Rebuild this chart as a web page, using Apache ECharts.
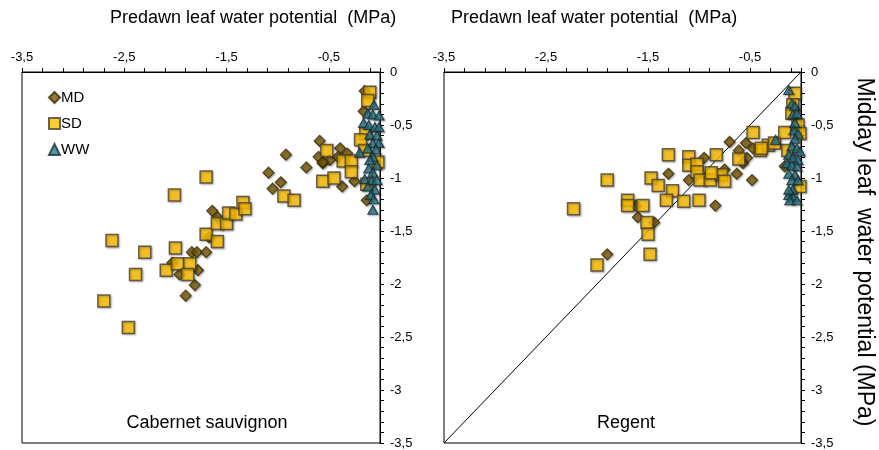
<!DOCTYPE html>
<html>
<head>
<meta charset="utf-8">
<script src="https://cdn.jsdelivr.net/npm/echarts@6/dist/echarts.min.js"></script>
<style>
  html, body { margin: 0; padding: 0; background: #fff; }
  #chart { width: 879px; height: 450px; }
</style>
</head>
<body>
<div id="chart"></div>
<script>
// Predawn (x) vs midday (y) leaf water potential, MPa, per irrigation treatment
const cabernetMD = [
  [-1.64,-1.31],[-1.59,-1.37],[-1.84,-1.70],[-1.79,-1.70],[-1.70,-1.70],[-1.78,-1.87],
  [-1.96,-1.91],[-1.81,-2.01],[-1.90,-2.11],[-2.03,-1.80],[-1.67,-1.56],
  [-0.59,-0.65],[-0.92,-0.78],[-1.09,-0.95],[-0.97,-1.04],[-1.05,-1.10],[-0.72,-0.90],
  [-0.60,-0.80],[-0.56,-0.86],[-0.49,-0.83],[-0.15,-0.18],[-0.16,-0.37],[-0.39,-0.72],
  [-0.32,-0.77],[-0.41,-0.80],[-0.25,-1.03],[-0.37,-1.08],[-0.13,-1.21],[-0.56,-0.85]
];
const cabernetSD = [
  [-1.70,-0.99],[-2.01,-1.16],[-2.62,-1.59],[-2.30,-1.70],[-2.39,-1.91],[-2.70,-2.16],
  [-2.46,-2.41],[-2.00,-1.66],[-2.09,-1.87],[-1.98,-1.81],[-1.86,-1.81],[-1.88,-1.91],
  [-1.70,-1.53],[-1.59,-1.60],[-1.59,-1.43],[-1.50,-1.43],[-1.48,-1.33],[-1.41,-1.34],
  [-1.34,-1.23],[-1.32,-1.29],[-0.94,-1.17],[-0.84,-1.21],[-0.56,-1.03],[-0.52,-0.74],
  [-0.10,-0.19],[-0.12,-0.27],[-0.14,-0.58],[-0.19,-0.64],[-0.15,-0.74],[-0.36,-0.84],
  [-0.28,-0.84],[-0.28,-0.94],[-0.02,-0.85],[-0.45,-1.00],[-0.13,-1.06]
];
const cabernetWW = [
  [-0.06,-0.31],[-0.12,-0.39],[-0.07,-0.40],[-0.01,-0.41],[-0.16,-0.48],[-0.11,-0.50],
  [-0.05,-0.52],[-0.01,-0.52],[-0.10,-0.59],[-0.03,-0.60],[-0.07,-0.67],[-0.01,-0.67],
  [-0.12,-0.72],[-0.04,-0.73],[-0.20,-0.76],[-0.07,-0.80],[-0.10,-0.83],[-0.03,-0.88],
  [-0.11,-0.91],[-0.07,-0.95],[-0.15,-1.01],[-0.08,-1.02],[-0.03,-1.02],[-0.12,-1.08],
  [-0.05,-1.11],[-0.09,-1.16],[-0.06,-1.20],[-0.07,-1.30]
];
const regentMD = [
  [-1.30,-0.96],[-1.60,-1.37],[-1.44,-1.42],[-1.62,-1.26],[-1.90,-1.72],[-0.70,-0.66],
  [-0.54,-0.67],[-0.61,-0.74],[-0.53,-0.81],[-0.57,-0.86],[-0.47,-0.72],[-0.95,-0.81],
  [-0.63,-0.96],[-0.48,-1.02],[-0.84,-1.26],[-1.10,-1.02],[-0.75,-0.92],[-0.16,-0.89]
];
const regentSD = [
  [-1.30,-0.78],[-1.90,-1.02],[-1.47,-1.00],[-1.40,-1.07],[-1.26,-1.12],[-1.32,-1.21],
  [-2.23,-1.29],[-1.70,-1.21],[-1.70,-1.26],[-1.55,-1.26],[-1.51,-1.42],[-1.50,-1.53],
  [-1.48,-1.72],[-2.00,-1.82],[-0.47,-0.57],[-0.40,-0.74],[-0.61,-0.82],[-0.83,-0.78],
  [-1.10,-0.80],[-1.10,-0.88],[-1.02,-0.87],[-1.02,-0.94],[-0.99,-1.02],[-0.89,-1.02],
  [-0.78,-0.97],[-0.75,-1.03],[-0.88,-0.95],[-1.15,-1.22],[-1.00,-1.21],[-0.32,-0.69],
  [-0.06,-0.20],[-0.08,-0.31],[-0.09,-0.39],[-0.03,-0.50],[-0.01,-0.58],[-0.39,-0.72],
  [-0.26,-0.67],[-0.16,-0.57],[-0.13,-0.74],[-0.01,-1.08]
];
const regentWW = [
  [-0.12,-0.17],[-0.09,-0.30],[-0.06,-0.32],[-0.08,-0.40],[-0.04,-0.39],[-0.25,-0.64],
  [-0.06,-0.48],[-0.07,-0.55],[-0.03,-0.58],[-0.06,-0.63],[-0.09,-0.70],[-0.04,-0.72],
  [-0.01,-0.75],[-0.12,-0.78],[-0.08,-0.81],[-0.03,-0.83],[-0.14,-0.86],[-0.09,-0.88],
  [-0.04,-0.89],[-0.12,-0.96],[-0.06,-0.97],[-0.09,-1.02],[-0.03,-1.02],[-0.08,-1.11],
  [-0.12,-1.16],[-0.08,-1.18],[-0.11,-1.21],[-0.04,-1.21],[-0.12,-1.11]
];
// 1:1 reference line on the Regent panel
const oneToOne = [[-3.5,-3.5],[0,0]];

const panelNames = ['Cabernet sauvignon', 'Regent'];
const xTitle = 'Predawn leaf water potential  (MPa)';
const yTitle = 'Midday leaf  water potential (MPa)';
const axisMin = -3.5, axisMax = 0;

const FONT = '"Liberation Sans", Arial, sans-serif';
const fmt = v => String(Math.round(v * 10) / 10).replace('.', ',');

function xAxisFor(gridIndex) {
  return {
    type: 'value', gridIndex, position: 'top', min: axisMin, max: axisMax, interval: 0.2,
    axisLine: { show: true, lineStyle: { color: '#000', width: 1 } },
    axisTick: { show: true, length: 4, lineStyle: { color: '#000' } },
    splitLine: { show: false },
    axisLabel: {
      show: true, margin: 8, color: '#000', fontFamily: FONT, fontSize: 13,
      showMinLabel: true, showMaxLabel: true, hideOverlap: false,
      formatter: v => {
        const s = v - axisMin;
        return (Math.abs(s - Math.round(s)) < 1e-6 && v < -0.01) ? fmt(v) : '';
      }
    }
  };
}
function yAxisFor(gridIndex) {
  return {
    type: 'value', gridIndex, position: 'right', min: axisMin, max: axisMax, interval: 0.5,
    axisLine: { show: true, lineStyle: { color: '#000', width: 1 } },
    axisTick: { show: true, length: 4, lineStyle: { color: '#000' } },
    minorTick: { show: true, splitNumber: 5, length: 4, lineStyle: { color: '#000' } },
    splitLine: { show: false },
    axisLabel: { margin: 10, color: '#000', fontFamily: FONT, fontSize: 13, formatter: fmt }
  };
}

const shadow = { shadowBlur: 2, shadowColor: 'rgba(0,0,0,0.35)', shadowOffsetX: 1, shadowOffsetY: 1 };
const styles = {
  MD: { symbol: 'diamond', symbolSize: 11, itemStyle: Object.assign({ color: '#7a5a06', borderColor: '#3a2c05', borderWidth: 1.2 }, shadow) },
  SD: { symbol: 'rect', symbolSize: 12, itemStyle: Object.assign({ color: '#ffc000', borderColor: '#4a4030', borderWidth: 1.5 }, shadow) },
  WW: { symbol: 'triangle', symbolSize: [10, 9], itemStyle: Object.assign({ color: '#2b7a8c', borderColor: '#1a2f36', borderWidth: 1.2 }, shadow) }
};
function scatter(name, data, idx) {
  return Object.assign({ type: 'scatter', name, data, xAxisIndex: idx, yAxisIndex: idx, z: 3 }, styles[name]);
}

const chart = echarts.init(document.getElementById('chart'), null, { renderer: 'canvas' });
chart.setOption({
  animation: false,
  backgroundColor: '#fff',
  grid: [
    { left: 22, top: 72, width: 358, height: 371, show: true, borderColor: '#000', borderWidth: 1, backgroundColor: 'transparent' },
    { left: 444, top: 72, width: 357, height: 371, show: true, borderColor: '#000', borderWidth: 1, backgroundColor: 'transparent' }
  ],
  xAxis: [xAxisFor(0), xAxisFor(1)],
  yAxis: [yAxisFor(0), yAxisFor(1)],
  legend: {
    left: 43, top: 85, orient: 'vertical', itemGap: 11, itemWidth: 11, itemHeight: 11,
    data: ['MD', 'SD', 'WW'],
    textStyle: { fontFamily: FONT, fontSize: 15, color: '#000', padding: [0, 0, 0, -4] }
  },
  graphic: [
    { type: 'text', left: 110, top: 9, style: { text: xTitle, fontFamily: FONT, fontSize: 18, fill: '#000' } },
    { type: 'text', left: 451, top: 9, style: { text: xTitle, fontFamily: FONT, fontSize: 18, fill: '#000' } },
    { type: 'text', x: 207, y: 423, style: { text: panelNames[0], fontFamily: FONT, fontSize: 18, fill: '#000', align: 'center', verticalAlign: 'middle' } },
    { type: 'text', x: 626, y: 423, style: { text: panelNames[1], fontFamily: FONT, fontSize: 18, fill: '#000', align: 'center', verticalAlign: 'middle' } },
    { type: 'text', x: 864, y: 252, rotation: -Math.PI / 2, style: { text: yTitle, fontFamily: FONT, fontSize: 23, fill: '#000', align: 'center', verticalAlign: 'middle' } }
  ],
  series: [
    { type: 'line', data: oneToOne, xAxisIndex: 1, yAxisIndex: 1, symbol: 'none', z: 1,
      lineStyle: { color: '#000', width: 1 }, silent: true, legendHoverLink: false },
    scatter('MD', cabernetMD, 0),
    scatter('SD', cabernetSD, 0),
    scatter('WW', cabernetWW, 0),
    scatter('MD', regentMD, 1),
    scatter('SD', regentSD, 1),
    scatter('WW', regentWW, 1)
  ]
});
</script>
</body>
</html>
